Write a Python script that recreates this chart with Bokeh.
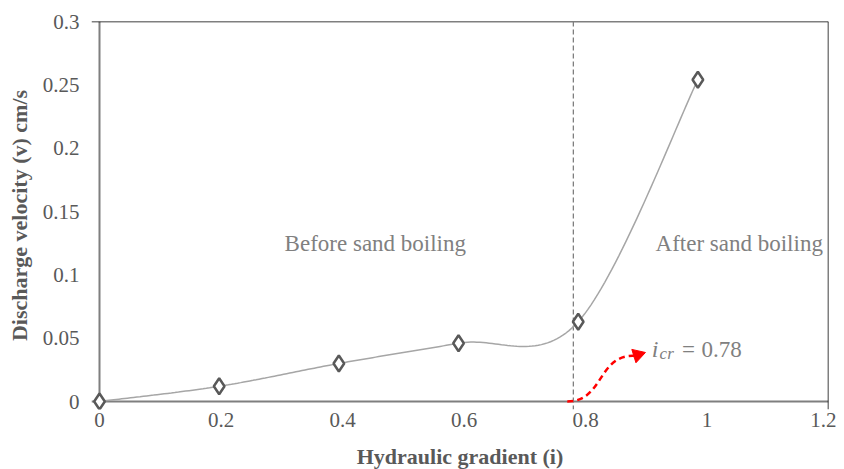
import numpy as np
from bokeh.plotting import figure
from bokeh.models import FixedTicker, Range1d, Span
from bokeh.core.properties import value
from bokeh.embed import file_html
from bokeh.resources import INLINE

# ---- data ----
gradient = [0.0, 0.197, 0.394, 0.591, 0.788, 0.985]
velocity = [0.0, 0.012, 0.030, 0.046, 0.063, 0.254]
x_ticks = [0, 0.2, 0.4, 0.6, 0.8, 1.0, 1.2]
x_tick_labels = ["0", "0.2", "0.4", "0.6", "0.8", "1", "1.2"]
y_ticks = [0, 0.05, 0.1, 0.15, 0.2, 0.25, 0.3]
y_tick_labels = ["0", "0.05", "0.1", "0.15", "0.2", "0.25", "0.3"]
i_cr = 0.78
region_labels = ["Before sand boiling", "After sand boiling"]
region_x = [0.454, 1.053]
region_y = [0.125, 0.125]

FONT = "Liberation Serif"

X_MAX, Y_MAX = 1.2, 0.3
FRAME_W, FRAME_H = 737, 388
PAD_PX = 8

# smoothed curve (Catmull-Rom / Excel-style Bezier) through the data points
def smooth(xs, ys, n=40):
    P = np.column_stack([xs, ys]).astype(float)
    out = []
    m = len(P)
    for k in range(m - 1):
        p0 = P[k]
        p3 = P[k + 1]
        prev = P[k - 1] if k > 0 else P[k]
        nxt = P[k + 2] if k + 2 < m else P[k + 1]
        c1 = p0 + (p3 - prev) / 6.0
        c2 = p3 - (nxt - p0) / 6.0
        t = np.linspace(0, 1, n)[:, None]
        seg = ((1 - t) ** 3) * p0 + 3 * ((1 - t) ** 2) * t * c1 + 3 * (1 - t) * t ** 2 * c2 + t ** 3 * p3
        out.append(seg if k == 0 else seg[1:])
    c = np.vstack(out)
    return c[:, 0], c[:, 1]

sx, sy = smooth(gradient, velocity)

# small padding so that markers at the origin are not clipped
x_start = -X_MAX * PAD_PX / (FRAME_W - PAD_PX)
y_start = -Y_MAX * PAD_PX / (FRAME_H - PAD_PX)

p = figure(frame_width=FRAME_W, frame_height=FRAME_H, output_backend="svg", toolbar_location=None,
           x_range=Range1d(x_start, X_MAX), y_range=Range1d(y_start, Y_MAX),
           min_border_left=91, min_border_right=8, min_border_top=21, min_border_bottom=52)
p.background_fill_color = "white"
p.border_fill_color = "white"
p.outline_line_color = None
p.xgrid.visible = False
p.ygrid.visible = False

# axes
for ax in (p.xaxis[0], p.yaxis[0]):
    ax.axis_line_color = None
    ax.major_tick_line_color = None
    ax.minor_tick_line_color = None
    ax.major_label_text_font = FONT
    ax.major_label_text_font_size = "21px"
    ax.major_label_text_color = "#595959"
    ax.axis_label_text_font = FONT
    ax.axis_label_text_font_style = "bold"
    ax.axis_label_text_font_size = "22px"
    ax.axis_label_text_color = "#595959"

p.xaxis.ticker = FixedTicker(ticks=x_ticks)
p.xaxis.major_label_overrides = {t: l for t, l in zip(x_ticks, x_tick_labels)}
p.yaxis.ticker = FixedTicker(ticks=y_ticks)
p.yaxis.major_label_overrides = {t: l for t, l in zip(y_ticks, y_tick_labels)}
p.xaxis.axis_label = "Hydraulic gradient (i)"
p.yaxis.axis_label = "Discharge velocity (v) cm/s"
p.xaxis.major_label_standoff = -3
p.yaxis.major_label_standoff = 6
p.xaxis.axis_label_standoff = 14
p.yaxis.axis_label_standoff = 8

# frame lines: gray axes at 0, black border at top/right
p.add_layout(Span(location=0, dimension="height", line_color="#7f7f7f", line_width=2, level="underlay"))
p.add_layout(Span(location=0, dimension="width", line_color="#7f7f7f", line_width=2, level="underlay"))
p.add_layout(Span(location=X_MAX, dimension="height", line_color="black", line_width=1.5, level="underlay"))
p.add_layout(Span(location=Y_MAX, dimension="width", line_color="black", line_width=1.5, level="underlay"))

# critical gradient line
p.add_layout(Span(location=i_cr, dimension="height", line_color="#7f7f7f",
                  line_dash="5 3", line_width=1.3, level="underlay"))

# smoothed line and markers
p.line(sx, sy, line_color="#a6a6a6", line_width=1.5)
p.scatter(gradient, velocity, marker="diamond", size=16, fill_color="white",
          line_color="#595959", line_width=2.5)

# region labels
p.text(region_x, region_y, text=region_labels, text_font=value(FONT),
       text_font_size="23px", text_color="#808080", text_align="center",
       text_baseline="middle")

# red dashed curved arrow
arr_x0, arr_y0 = i_cr - 0.01, 0.0
arr_x1, arr_y1 = 0.88, 0.036
p.bezier(x0=[arr_x0], y0=[arr_y0], x1=[arr_x1], y1=[arr_y1],
         cx0=[0.83], cy0=[0.0], cx1=[0.82], cy1=[0.037],
         line_color="red", line_width=2.5, line_dash="6 4")
p.scatter([arr_x1 + 0.006], [arr_y1 + 0.0008], marker="triangle", size=14,
          angle=-np.pi / 2 + 0.3, fill_color="red", line_color="red")

# i_cr label
p.text([0.909], [0.0414], text=["i"], text_font=value(FONT), text_font_style="italic",
       text_font_size="24px", text_color="#808080", text_baseline="middle")
p.text([0.922], [0.0378], text=["cr"], text_font=value(FONT), text_font_style="italic",
       text_font_size="17px", text_color="#808080", text_baseline="middle")
p.text([0.959], [0.0414], text=["="], text_font=value(FONT),
       text_font_size="23px", text_color="#808080", text_baseline="middle")
p.text([0.991], [0.0414], text=[str(i_cr)], text_font=value(FONT),
       text_font_size="23px", text_color="#808080", text_baseline="middle")

open("out.html", "w").write(file_html(p, INLINE))
